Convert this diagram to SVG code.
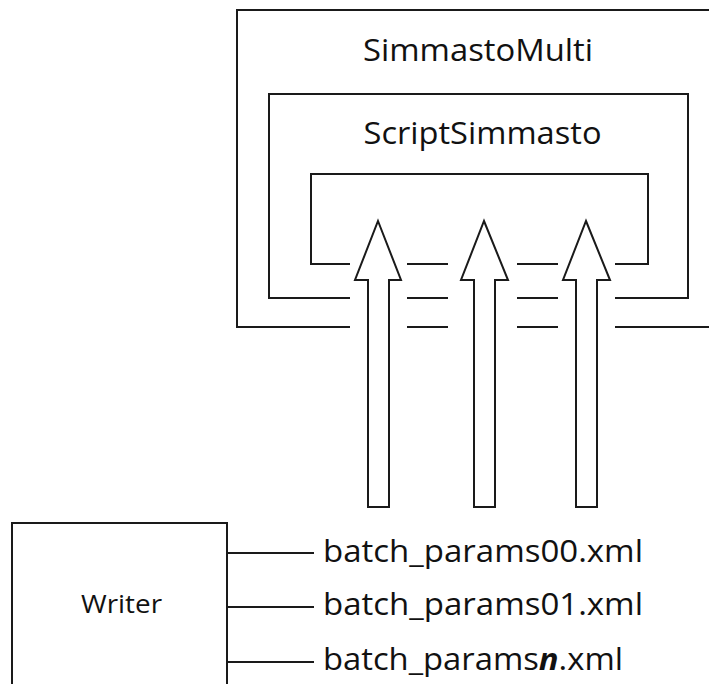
<svg xmlns="http://www.w3.org/2000/svg" width="709" height="684" viewBox="0 0 709 684">
  <style>
    .frame { fill: none; stroke: #1a1a1a; stroke-width: 2; }
    .arrow { fill: #ffffff; stroke: #1a1a1a; stroke-width: 2; stroke-linejoin: miter; }
    .link { fill: none; stroke: #1a1a1a; stroke-width: 2; }
    .big { font-family: "Open Sans", "Liberation Sans", sans-serif; font-size: 31px; fill: #111111; }
    .small { font-family: "Open Sans", "Liberation Sans", sans-serif; font-size: 25px; fill: #111111; }
    .em { font-weight: bold; font-style: italic; }
  </style>

  <rect x="0" y="0" width="709" height="684" fill="#ffffff"/>

  <!-- outer container, open to the right, bottom broken by the arrows -->
  <g id="simmasto-multi">
    <path class="frame" d="M350,327 H237 V10 H712 M407,327 H448 M517,327 H558 M615,327 H712"/>
    <text class="big" x="478" y="61" text-anchor="middle" textLength="230" lengthAdjust="spacingAndGlyphs">SimmastoMulti</text>
  </g>

  <!-- script container -->
  <g id="script-simmasto">
    <path class="frame" d="M350,298 H269 V94 H688 V298 H615 M407,298 H448 M517,298 H558"/>
    <text class="big" x="482.5" y="144" text-anchor="middle" textLength="238" lengthAdjust="spacingAndGlyphs">ScriptSimmasto</text>
  </g>

  <!-- innermost container -->
  <g id="inner-box">
    <path class="frame" d="M350,264 H311 V174 H648 V264 H615 M407,264 H448 M517,264 H558"/>
  </g>

  <!-- writer -->
  <g id="writer">
    <path class="frame" d="M12,700 V523 H227 V700"/>
    <text class="small" x="121.5" y="613" text-anchor="middle" textLength="81" lengthAdjust="spacingAndGlyphs">Writer</text>
  </g>

  <!-- parameter files -->
  <g id="file-00">
    <text class="big" x="323" y="562" textLength="320" lengthAdjust="spacingAndGlyphs">batch_params00.xml</text>
  </g>
  <g id="file-01">
    <text class="big" x="323" y="615" textLength="320" lengthAdjust="spacingAndGlyphs">batch_params01.xml</text>
  </g>
  <g id="file-n">
    <text class="big" x="323" y="670" textLength="300" lengthAdjust="spacingAndGlyphs">batch_params<tspan class="em">n</tspan>.xml</text>
  </g>

  <!-- connectors -->
  <g id="connectors">
    <polygon class="arrow" points="378,221 401,280 389,280 389,507 368,507 368,280 355,280"/>
    <polygon class="arrow" points="484,221 508,280 495,280 495,507 474,507 474,280 461,280"/>
    <polygon class="arrow" points="586,221 610,280 597,280 597,507 576,507 576,280 563,280"/>
    <path class="link" d="M227,553 H314 M227,607 H314 M227,662 H314"/>
  </g>
</svg>
